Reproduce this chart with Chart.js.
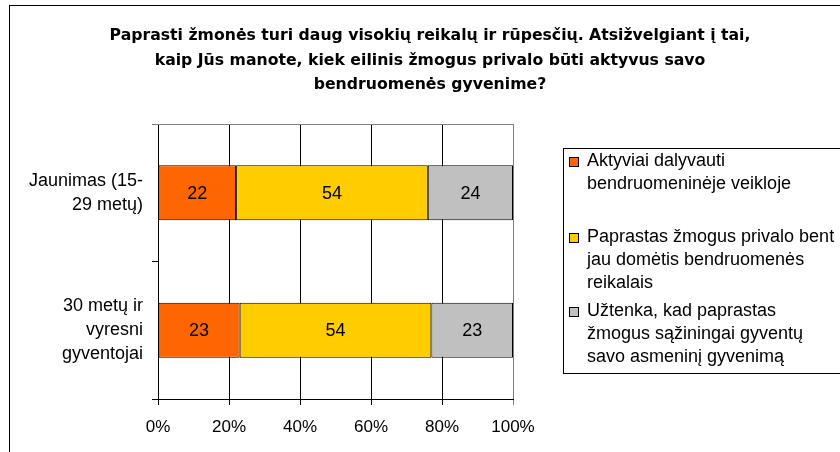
<!DOCTYPE html>
<html>
<head>
<meta charset="utf-8">
<script src="https://cdn.jsdelivr.net/npm/chart.js@4.4.0/dist/chart.umd.min.js"></script>
<style>
  html, body { margin: 0; padding: 0; background: #fff; }
  #wrap { width: 840px; height: 452px; }
</style>
</head>
<body>
<div id="wrap"><canvas id="chart"></canvas></div>
<script>
const categories = [['Jaunimas (15-', '29 metų)'], ['30 metų ir', 'vyresni', 'gyventojai']];
const activeShare = [22, 23];
const interestedShare = [54, 54];
const privateShare = [24, 23];
const seriesNames = [
    ['Aktyviai dalyvauti', 'bendruomeninėje veikloje'],
    ['Paprastas žmogus privalo bent', 'jau domėtis bendruomenės', 'reikalais'],
    ['Užtenka, kad paprastas', 'žmogus sąžiningai gyventų', 'savo asmeninį gyvenimą']
];
const seriesColors = ['#FF6600', '#FFCC00', '#C0C0C0'];
const xTickLabels = ['0%', '20%', '40%', '60%', '80%', '100%'];
const titleLines = [
    'Paprasti žmonės turi daug visokių reikalų ir rūpesčių. Atsižvelgiant į tai,',
    'kaip Jūs manote, kiek eilinis žmogus privalo būti aktyvus savo',
    'bendruomenės gyvenime?'
];

const FONT = "'Liberation Sans', Arial, sans-serif";

// frame, title, plot border, value labels and the wrapped legend
const extras = {
    id: 'extras',
    beforeDraw(chart) {
        const ctx = chart.ctx;
        ctx.save();
        ctx.fillStyle = '#fff';
        ctx.fillRect(0, 0, chart.width, chart.height);
        ctx.strokeStyle = '#000';
        ctx.lineWidth = 1;
        ctx.strokeRect(9.5, 5.5, 900, 500);

        ctx.fillStyle = '#000';
        ctx.font = "bold 15.7px 'DejaVu Sans', sans-serif";
        ctx.textAlign = 'center';
        ctx.textBaseline = 'alphabetic';
        titleLines.forEach((t, i) => ctx.fillText(t, 430, 40 + i * 24.5));
        ctx.restore();
    },
    afterDatasetsDraw(chart) {
        const ctx = chart.ctx;
        const area = chart.chartArea;
        ctx.save();
        ctx.strokeStyle = '#808080';
        ctx.beginPath();
        ctx.moveTo(area.left - 6, Math.round(area.top) + 0.5);
        ctx.lineTo(area.right, Math.round(area.top) + 0.5);
        ctx.stroke();

        ctx.font = '18px ' + FONT;
        ctx.fillStyle = '#000';
        ctx.textAlign = 'center';
        ctx.textBaseline = 'middle';
        chart.data.datasets.forEach((ds, i) => {
            chart.getDatasetMeta(i).data.forEach((bar, j) => {
                const p = bar.getCenterPoint();
                ctx.fillText(ds.data[j], p.x, p.y + 1);
            });
        });

        // legend box
        ctx.strokeStyle = '#000';
        ctx.strokeRect(563.5, 148.5, 400, 225);
        ctx.textAlign = 'left';
        ctx.font = '18px ' + FONT;
        const starts = [161, 237, 311];
        seriesNames.forEach((lines, i) => {
            const y0 = starts[i];
            ctx.fillStyle = seriesColors[i];
            ctx.fillRect(569, y0 - 4, 10, 10);
            ctx.strokeStyle = '#000';
            ctx.strokeRect(569.5, y0 - 3.5, 9, 9);
            ctx.fillStyle = '#000';
            lines.forEach((t, k) => ctx.fillText(t, 587, y0 + k * 23));
        });
        ctx.restore();
    }
};

const ctx = document.getElementById('chart').getContext('2d');
const barChart = new Chart(ctx, {
    type: 'bar',
    data: {
        labels: categories,
        datasets: [activeShare, interestedShare, privateShare].map((d, i) => ({
            label: seriesNames[i].join(' '),
            data: d,
            backgroundColor: seriesColors[i],
            borderColor: '#000',
            borderWidth: 1,
            borderSkipped: false,
            categoryPercentage: 1,
            barPercentage: 0.4
        }))
    },
    options: {
        indexAxis: 'y',
        responsive: true,
        maintainAspectRatio: false,
        animation: false,
        layout: { padding: { left: 10, right: 327, top: 124, bottom: 13 } },
        plugins: {
            legend: { display: false },
            tooltip: { enabled: false },
            title: { display: false }
        },
        scales: {
            x: {
                stacked: true,
                min: 0,
                max: 100,
                ticks: {
                    stepSize: 20,
                    color: '#000',
                    font: { family: FONT, size: 17 },
                    padding: 12,
                    callback: (v, i) => xTickLabels[i]
                },
                grid: {
                    color: c => (c.tick && c.tick.value === 100 ? '#808080' : '#000'),
                    tickLength: 6
                },
                border: { color: '#000' },
                afterFit: s => { s.height = 40; }
            },
            y: {
                stacked: true,
                ticks: {
                    color: '#000',
                    font: { family: FONT, size: 18, lineHeight: 1.33 },
                    padding: 9
                },
                grid: { drawOnChartArea: false, tickLength: 6, color: '#000', offset: true },
                border: { color: '#000' },
                afterFit: s => { s.width = 148; }
            }
        }
    },
    plugins: [extras]
});
</script>
</body>
</html>
